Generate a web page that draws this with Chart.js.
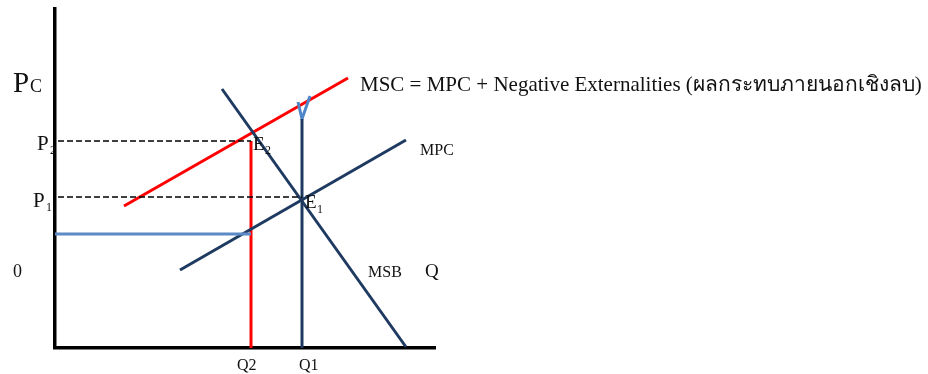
<!DOCTYPE html>
<html><head><meta charset="utf-8">
<script src="https://cdn.jsdelivr.net/npm/chart.js@4"></script>
<style>html,body{margin:0;padding:0;background:#fff}#wrap{width:928px;height:374px}</style>
</head><body><div id="wrap"><canvas id="c" width="928" height="374"></canvas></div>
<script>
// Curves in (Q, P) units
const mscLine = [{x:6.9,y:14.2},{x:29.3,y:27.0}];
const msbLine = [{x:16.7,y:25.9},{x:35.1,y:0.1}];
const mpcLine = [{x:12.5,y:7.8},{x:35.1,y:20.8}];
const q1 = 24.7, q2 = 19.6;
const p1 = 15.1, p2 = 20.7;
const pLow = 11.4;
const arrowTip = 22.9;
const arrowLeft = {x:24.3,y:24.6};
const arrowRight = {x:25.5,y:25.2};

const SERIF = "'Liberation Serif','Times New Roman',serif";
const labels = [
  {t:'P', x:-4.2, y:25.6, s:29},
  {t:'C', x:-2.5, y:25.6, s:18},
  {t:'P', x:-1.8, y:19.8, s:21},
  {t:'2', x:-0.5, y:19.4, s:12},
  {t:'P', x:-2.2, y:14.1, s:21},
  {t:'1', x:-0.9, y:13.7, s:12},
  {t:'E', x:19.8, y:19.8, s:19},
  {t:'2', x:21.0, y:19.4, s:12},
  {t:'E', x:25.0, y:14.0, s:19},
  {t:'1', x:26.2, y:13.5, s:12},
  {t:'0', x:-4.2, y:7.1, s:18},
  {t:'MSB', x:31.3, y:7.1, s:16},
  {t:'Q', x:37.0, y:7.1, s:19},
  {t:'MPC', x:36.5, y:19.3, s:16},
  {t:'Q2', x:18.2, y:-2.2, s:16},
  {t:'Q1', x:24.4, y:-2.2, s:16},
  {t:'MSC = MPC + Negative Externalities (ผลกระทบภายนอกเชิงลบ)', x:30.5, y:25.7, s:21}
];

const textPlugin = {
  id:'texts',
  afterDatasetsDraw(chart){
    const ctx = chart.ctx, xs = chart.scales.x, ys = chart.scales.y;
    ctx.save();
    ctx.fillStyle = '#111';
    ctx.textBaseline = 'alphabetic';
    ctx.textAlign = 'left';
    labels.forEach(l=>{
      ctx.font = l.s + 'px ' + SERIF;
      ctx.fillText(l.t, xs.getPixelForValue(l.x), ys.getPixelForValue(l.y));
    });
    ctx.restore();
  }
};

const navy = '#1f3a60';
const seg = (data, color, w, dash) => ({data, borderColor:color, borderWidth:w, borderDash:dash||[], showLine:true, pointRadius:0, clip:false, fill:false, tension:0});

new Chart(document.getElementById('c'), {
  type:'scatter',
  data:{datasets:[
    seg([{x:0.3,y:p2},{x:q2,y:p2}], '#000', 1.6, [6,3]),
    seg([{x:0.3,y:p1},{x:q1,y:p1}], '#000', 1.6, [6,3]),
    seg([{x:0,y:pLow},{x:q2,y:pLow}], '#5b8ac6', 3),
    seg(mpcLine, navy, 3),
    seg([{x:q1,y:0},{x:q1,y:arrowTip}], navy, 3),
    seg([arrowLeft,{x:q1,y:arrowTip},arrowRight], '#4f86c8', 3),
    seg(msbLine, navy, 3),
    seg([{x:q2,y:0},{x:q2,y:p2}], '#ff0000', 3),
    seg(mscLine, '#ff0000', 3)
  ]},
  options:{
    responsive:false, animation:false, devicePixelRatio:1,
    layout:{padding:{left:47, top:9, right:493, bottom:18}},
    plugins:{legend:{display:false}, tooltip:{enabled:false}},
    scales:{
      x:{type:'linear', min:0, max:38, grid:{display:false}, ticks:{display:false}, border:{display:true, color:'#000', width:3.5}},
      y:{type:'linear', min:0, max:33.9, grid:{display:false}, ticks:{display:false}, border:{display:true, color:'#000', width:3.5}}
    }
  },
  plugins:[textPlugin]
});
</script></body></html>
